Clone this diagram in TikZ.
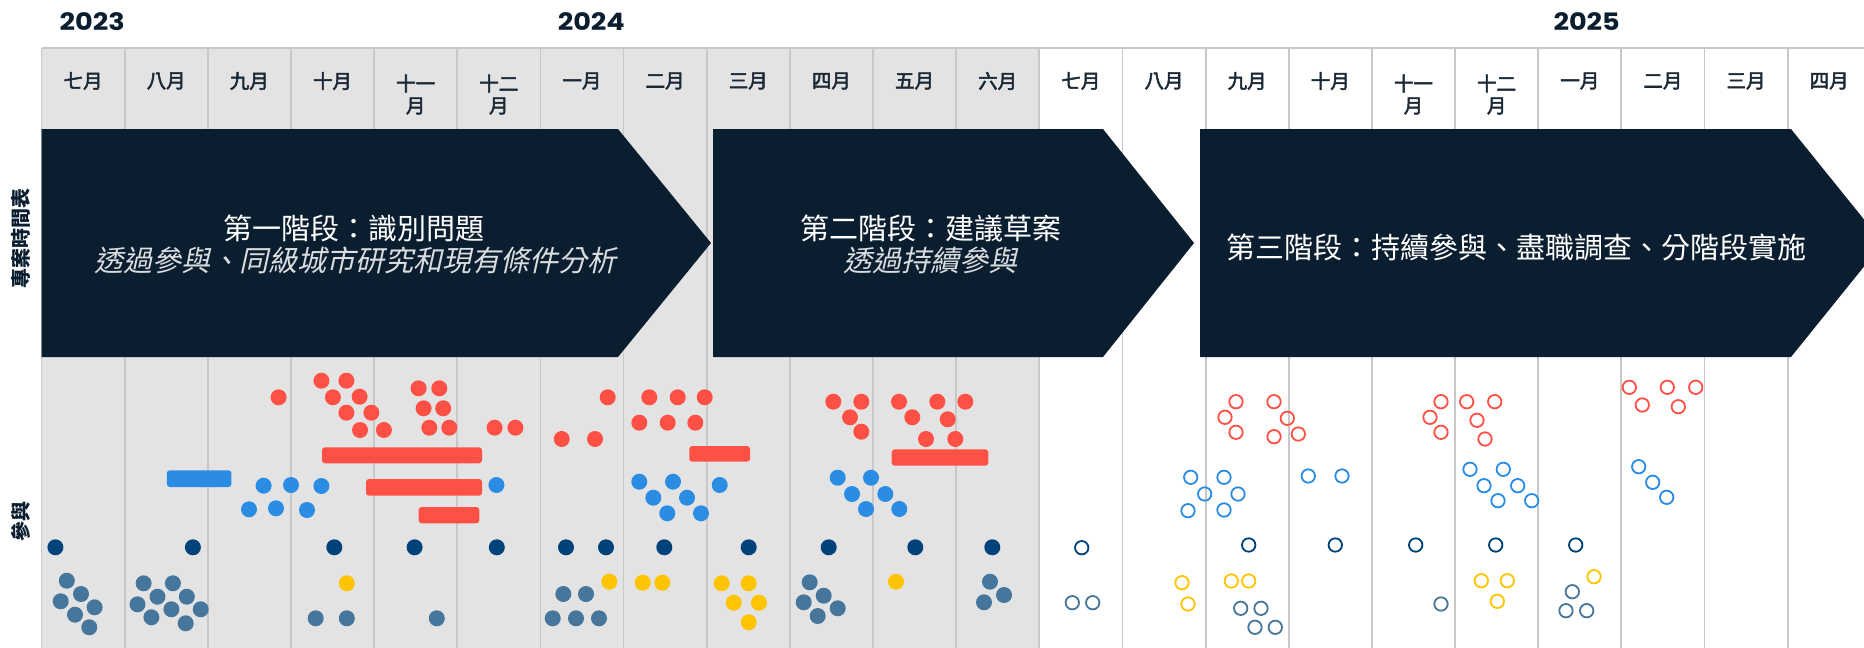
\documentclass[tikz,border=0pt]{standalone}
\usepackage{fontspec}
\setmainfont{Poppins}
\newfontfamily\yearfont{Poppins}[FakeStretch=1.13]
\newfontfamily\cjk{Noto Sans CJK TC}
\newfontfamily\cjkmed{Noto Sans CJK TC}[FakeBold=2.6]
\newfontfamily\cjkit{Noto Sans CJK TC}[FakeSlant=0.22]
\definecolor{phasefill}{HTML}{0B1E30}
\definecolor{cellgray}{HTML}{E3E3E3}
\definecolor{gridcol}{HTML}{C8C8C8}
\definecolor{cred}{HTML}{FF5046}
\definecolor{cblue}{HTML}{2B8CE4}
\definecolor{cnavy}{HTML}{00427A}
\definecolor{csteel}{HTML}{46769C}
\definecolor{cyellow}{HTML}{FFC400}
\definecolor{labtext}{HTML}{0B1E30}
\definecolor{monthtext}{HTML}{1B2836}
\begin{document}
\begin{tikzpicture}[x=1pt,y=-1pt,
  gridln/.style={draw=gridcol,line width=1.8pt},
  monthlbl/.style={font=\cjkmed\fontsize{19.5}{22}\selectfont,text=monthtext,align=center,inner sep=0pt},
  yearlbl/.style={font=\yearfont\bfseries\fontsize{24}{26}\selectfont,text=labtext,inner sep=0pt},
  sidelbl/.style={font=\cjk\bfseries\fontsize{20}{22}\selectfont,text=labtext,inner sep=0pt,rotate=90},
  phaseshape/.style={fill=phasefill},
  phasetitle/.style={font=\cjk\fontsize{29}{32}\selectfont,text=white,inner sep=0pt},
  phasesub/.style={font=\cjkit\fontsize{29}{32}\selectfont,text=white!85!phasefill,inner sep=0pt},
  fulldot/.style={fill=#1},
  ringdot/.style={draw=#1,line width=1.8pt},
  barshape/.style={fill=#1,rounded corners=3pt}
]
\useasboundingbox (0,0) rectangle (1864,648);
\clip (0,0) rectangle (1864,648);
\fill[white] (0,0) rectangle (1864,648);
% gray first year
\fill[cellgray] (41.5,48) rectangle (1039.3,648);
\foreach \k in {0,...,21} \draw[gridln] ({41.5+83.15*\k},48) -- ({41.5+83.15*\k},648);
\draw[gridln] (41.5,48) -- (1864,48);

% month labels
\foreach \k/\t in {0/七月,1/八月,2/九月,3/十月,6/一月,7/二月,8/三月,9/四月,10/五月,11/六月,12/七月,13/八月,14/九月,15/十月,18/一月,19/二月,20/三月,21/四月}
  \node[monthlbl] (m\k) at ({41.5+83.15*(\k+0.5)},81) {\t};
\foreach \k/\t in {4/十一,5/十二,16/十一,17/十二}
  \node[monthlbl] (m\k) at ({41.5+83.15*(\k+0.5)},94.5) {\t\\月};

% years
\node[yearlbl,anchor=base east] (y23) at (125,30) {2023};
\node[yearlbl,anchor=base east] (y24) at (625,30) {2024};
\node[yearlbl,anchor=base east] (y25) at (1620,30) {2025};

% phase arrows
\fill[phaseshape] (41.5,129) -- (618,129) -- (711,243) -- (618,357) -- (41.5,357) -- cycle;
\fill[phaseshape] (713,129) -- (1103,129) -- (1194,243) -- (1103,357) -- (713,357) -- cycle;
\fill[phaseshape] (1200,129) -- (1791,129) -- (1883,243) -- (1791,357) -- (1200,357) -- cycle;

\node[phasetitle] (p1t) at (354,228.5) {第一階段：識別問題};
\node[phasesub] (p1s) at (355,260) {透過參與、同級城市研究和現有條件分析};
\node[phasetitle] (p2t) at (931,228.5) {第二階段：建議草案};
\node[phasesub] (p2s) at (930,260) {透過持續參與};
\node[phasetitle] (p3t) at (1516,247) {第三階段：持續參與、盡職調查、分階段實施};

% side labels
\node[sidelbl] (lt) at (21,238.5) {專案時間表};
\node[sidelbl] (le) at (21,521) {參與};

% bars
\fill[barshape=cblue] (166.8,470.3) rectangle (231.4,487);
\fill[barshape=cred] (322,447.3) rectangle (482,463.3);
\fill[barshape=cred] (366,479) rectangle (482,495.7);
\fill[barshape=cred] (418.6,507) rectangle (479.3,523.3);
\fill[barshape=cred] (689.3,446) rectangle (750,461.7);
\fill[barshape=cred] (891.7,449.3) rectangle (988.3,465.7);

% filled red
\foreach \x/\y in {278.6/397.3,321.4/380.7,346.4/380.7,332.9/397.3,359.6/396.7,346.4/412.7,371.4/412.7,360/430,383.9/430,418.6/388.3,439.3/388.3,423.6/408.3,443.2/408.3,429.3/427.7,449.3/427.7,494.6/427.7,515.4/427.7,561.7/439,595/439,607.7/397.3,649.3/397.3,677.7/397.3,704.7/397.3,639.3/422.7,667.7/422.7,695.3/422.7,833.3/401.7,861.3/401.7,850/417.3,861.3/431.7,899/401.7,937.3/401.7,965.3/401.7,912.3/417.3,947.7/419.3,926/439,955.3/439}
  \fill[fulldot=cred] (\x,\y) circle[radius=8pt];
% filled blue
\foreach \x/\y in {263.6/485.7,291/485,321.4/486,249/509.3,276/508.3,307/510,496.4/485,639.3/481.7,673/481.7,653.3/497.7,687/497.7,667.3/513.3,701/513.3,719.7/485,837.7/477.7,871/477.7,852/494,885.3/494,866/509,899.3/509}
  \fill[fulldot=cblue] (\x,\y) circle[radius=8pt];
% filled navy
\foreach \x in {55.4,192.9,334.3,414.6,496.8,566,606,664.3,748.7,828.7,915.3,992.3}
  \fill[fulldot=cnavy] (\x,547.3) circle[radius=8pt];
% filled yellow
\foreach \x/\y in {346.8/583.3,609.3/581.7,642.7/582.7,662.3/582.7,721.7/583.3,748.7/583.3,733.7/602.7,759/602.7,748.7/622.3,896/581.7}
  \fill[fulldot=cyellow] (\x,\y) circle[radius=8pt];
% filled steel
\foreach \x/\y in {66.8/580.7,81/594,60.7/601.3,94.6/607.3,75/614.7,89.3/627.3,143.6/583.3,172.9/583.3,157.5/596.7,186.8/596.7,137.5/604.3,171.4/609.3,200.7/609.3,151.4/617.3,185.7/623.3,315.7/618.3,346.8/618.3,436.8/618.3,563.3/594,586/594,552.7/618.3,576/618.3,599/618.3,809.7/582.3,823.7/595.7,803.7/602.3,837.7/608.3,817.7/616,990/581.7,1004/595,984/602.3}
  \fill[fulldot=csteel] (\x,\y) circle[radius=8pt];

% hollow red
\foreach \x/\y in {1236/401.7,1225/417.3,1236/432.3,1274/401.7,1287.3/418.3,1274/436.7,1298.3/434,1441/401.7,1430/417.3,1441/432.3,1466.7/401.7,1494.7/401.7,1477/420.3,1485/439,1629.3/387.3,1642.3/405,1667.3/387.3,1695.7/387.3,1678.3/406.7}
  \draw[ringdot=cred] (\x,\y) circle[radius=6.7pt];
% hollow blue
\foreach \x/\y in {1190.7/477.3,1224/477.3,1204.7/494,1238/494,1188/510.7,1224/510,1308.3/476,1342/476,1470/469.3,1503.3/469.3,1484/485.7,1517.7/485.7,1498/500.7,1531.7/500.7,1638.7/466.7,1652.7/482.3,1666.7/497.3}
  \draw[ringdot=cblue] (\x,\y) circle[radius=6.7pt];
% hollow navy
\foreach \x/\y in {1081.7/547.7,1248.7/545,1335.3/545,1415.7/545,1495.7/545,1575.7/545}
  \draw[ringdot=cnavy] (\x,\y) circle[radius=6.7pt];
% hollow yellow
\foreach \x/\y in {1182/582.7,1188/604,1231.3/581,1248.7/581,1481.3/580.7,1507.3/580.7,1497.3/601.3,1594/576.7}
  \draw[ringdot=cyellow] (\x,\y) circle[radius=6.7pt];
% hollow steel
\foreach \x/\y in {1072.3/602.7,1092.7/602.7,1240.7/608.3,1261/608.3,1255/627.3,1275.3/627.3,1441/604,1572.3/591.7,1566/610.7,1586.7/610.7}
  \draw[ringdot=csteel] (\x,\y) circle[radius=6.7pt];
\end{tikzpicture}
\end{document}
